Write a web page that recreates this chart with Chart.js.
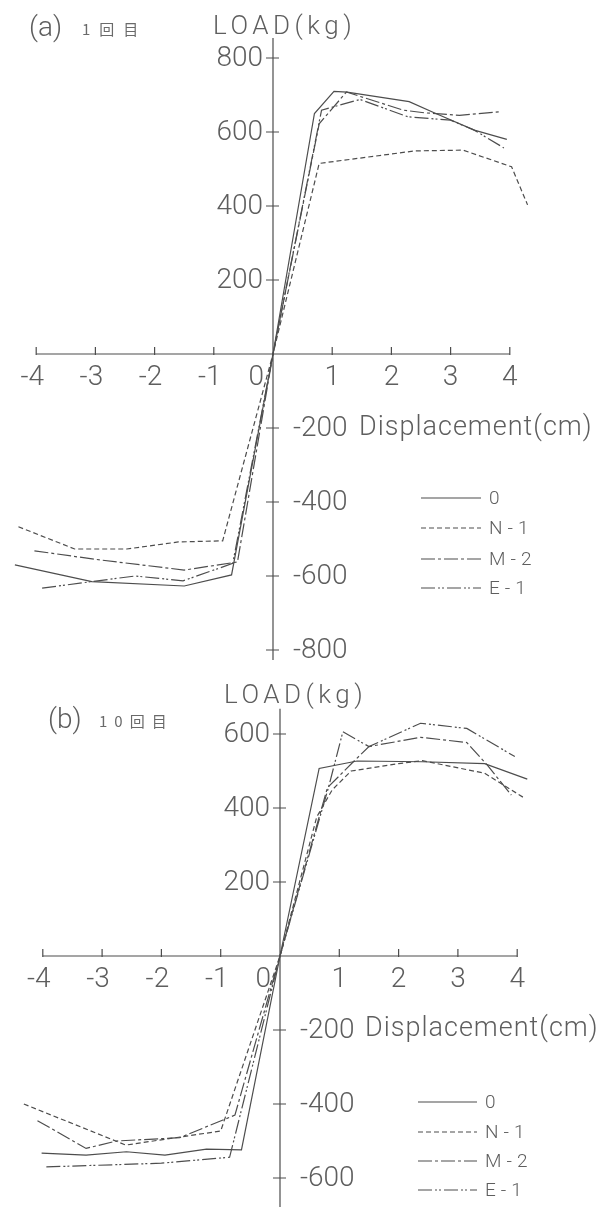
<!DOCTYPE html>
<html><head><meta charset="utf-8">
<script src="https://cdn.jsdelivr.net/npm/chart.js@4.4.1/dist/chart.umd.min.js"></script>
<style>
html,body{margin:0;padding:0;background:#fff;}
#wrap{position:relative;width:605px;height:1207px;overflow:hidden;background:#fff;}
canvas{position:absolute;left:0;}
</style></head><body>
<div id="wrap">
<canvas id="ca" width="605" height="665" style="top:0px"></canvas>
<canvas id="cb" width="605" height="542" style="top:665px"></canvas>
</div>
<script>
// ---------- data ----------
const seriesNames = ['0', 'N-1', 'M-2', 'E-1'];
const xTickValues = [-4, -3, -2, -1, 1, 2, 3, 4];
const aYTickValues = [800, 600, 400, 200, -200, -400, -600, -800];
const bYTickValues = [600, 400, 200, -200, -400, -600];

// (a) 1回目
const a0X  = [-4.36, -3.06, -1.5, -0.7, 0, 0.7, 1.03, 1.25, 2.3, 2.75, 3.4, 3.95];
const a0Y  = [-570, -615, -627, -597, 0, 650, 710, 708, 682, 650, 605, 580];
const aN1X = [-4.3, -3.35, -2.47, -1.6, -0.85, 0, 0.78, 2.4, 3.21, 4.03, 4.3];
const aN1Y = [-467, -527, -527, -508, -505, 0, 515, 549, 551, 506, 403];
const aM2X = [-4.03, -3.0, -1.5, -0.6, 0, 0.78, 1.24, 2.2, 2.55, 3.15, 3.85];
const aM2Y = [-532, -555, -584, -562, 0, 622, 708, 659, 652, 645, 655];
const aE1X = [-3.9, -3.06, -2.33, -1.52, -0.68, 0, 0.82, 1.47, 2.28, 3.0, 3.4, 3.9];
const aE1Y = [-633, -615, -600, -613, -566, 0, 659, 688, 641, 632, 605, 557];

// (b) 10回目
const b0X  = [-4.02, -3.27, -2.59, -1.94, -1.24, -0.65, 0, 0.66, 1.3, 2.4, 3.45, 4.17];
const b0Y  = [-533, -538, -529, -538, -522, -524, 0, 507, 527, 525, 520, 478];
const bN1X = [-4.32, -2.6, -1.0, 0, 0.62, 0.88, 1.2, 2.0, 2.4, 3.45, 4.1];
const bN1Y = [-400, -511, -473, 0, 376, 449, 500, 520, 528, 494, 429];
const bM2X = [-4.09, -3.27, -2.76, -1.69, -0.76, 0, 0.8, 1.25, 1.5, 2.37, 3.15, 3.5, 3.9];
const bM2Y = [-445, -520, -500, -491, -430, 0, 455, 527, 566, 591, 577, 515, 435];
const bE1X = [-3.94, -2.0, -0.85, 0, 0.82, 1.06, 1.5, 2.37, 3.15, 3.96];
const bE1Y = [-570, -560, -544, 0, 457, 606, 566, 629, 615, 539];

// ---------- styles ----------
const LINE = '#4d4d4d';
const TEXT = '#5e5e5e';
const dashes = [[], [5, 3], [14, 3, 3, 3], [14, 3, 2, 2, 2, 3]];
const NUMFONT = '300 28px Roboto, "Liberation Sans", sans-serif';

function pts(xs, ys) { return xs.map((x, i) => ({ x: x, y: ys[i] })); }

function makeDatasets(list) {
  return list.map((s, i) => ({
    label: seriesNames[i],
    data: pts(s[0], s[1]),
    borderColor: LINE,
    borderWidth: 1.2,
    borderDash: dashes[i],
    pointRadius: 0,
    fill: false,
    tension: 0,
    showLine: true
  }));
}

function txt(ctx, s, x, y, font, align, base, spacing, color) {
  ctx.font = font;
  ctx.textAlign = align;
  ctx.textBaseline = base;
  ctx.fillStyle = color || TEXT;
  try { ctx.letterSpacing = (spacing || 0) + 'px'; } catch (e) {}
  ctx.fillText(s, x, y);
  try { ctx.letterSpacing = '0px'; } catch (e) {}
}

const overlay = {
  id: 'overlay',
  afterDatasetsDraw(chart, args, o) {
    const ctx = chart.ctx, xs = chart.scales.x, ys = chart.scales.y;
    const ox = xs.getPixelForValue(0), oy = ys.getPixelForValue(0);
    ctx.save();
    ctx.strokeStyle = LINE;
    ctx.lineWidth = 1.2;
    ctx.setLineDash([]);
    // axes
    ctx.beginPath();
    ctx.moveTo(xs.getPixelForValue(-4), oy); ctx.lineTo(xs.getPixelForValue(4), oy);
    ctx.moveTo(ox, ys.getPixelForValue(o.yTop)); ctx.lineTo(ox, ys.getPixelForValue(o.yBottom));
    ctx.stroke();
    // x ticks
    ctx.beginPath();
    xTickValues.forEach(v => {
      const px = xs.getPixelForValue(v);
      ctx.moveTo(px, oy - 7); ctx.lineTo(px, oy + 1);
    });
    // y ticks
    o.yTicks.forEach(v => {
      const py = ys.getPixelForValue(v);
      ctx.moveTo(ox - 7, py); ctx.lineTo(ox + 6, py);
    });
    ctx.stroke();
    // x tick labels
    xTickValues.forEach(v => {
      const px = xs.getPixelForValue(v) - (v < 0 ? 4 : 0);
      txt(ctx, String(v), px, oy + 10, NUMFONT, 'center', 'top', 0);
    });
    txt(ctx, '0', ox - 9, oy + 10, NUMFONT, 'right', 'top', 0);
    // y tick labels
    o.yTicks.forEach(v => {
      const py = ys.getPixelForValue(v) + 1;
      if (v > 0) txt(ctx, String(v), ox - 10, py, NUMFONT, 'right', 'middle', 0);
      else txt(ctx, String(v), ox + 20, py, NUMFONT, 'left', 'middle', 0);
    });
    // axis titles
    txt(ctx, 'LOAD(kg)', o.loadX, o.loadY, '300 26px Roboto, sans-serif', 'left', 'alphabetic', 4.5);
    txt(ctx, 'Displacement(cm)', o.dispX, o.dispY, '300 27px Roboto, sans-serif', 'left', 'alphabetic', 1);
    // panel title
    txt(ctx, o.tag, o.tagX, o.tagY, '300 28px Roboto, sans-serif', 'left', 'alphabetic', 0);
    txt(ctx, o.sub, o.subX, o.tagY - 1, '15px "Noto Sans CJK JP", sans-serif', 'left', 'alphabetic', o.subSp, '#6a6a6a');
    // legend
    chart.data.datasets.forEach((ds, i) => {
      const ly = o.legY[i];
      ctx.beginPath();
      ctx.setLineDash(ds.borderDash);
      ctx.lineWidth = 1.2;
      ctx.strokeStyle = LINE;
      ctx.moveTo(o.legX0, ly); ctx.lineTo(o.legX1, ly);
      ctx.stroke();
      ctx.setLineDash([]);
      txt(ctx, ds.label, o.legX1 + 8, ly + 1, '300 19px Roboto, sans-serif', 'left', 'middle', 5);
    });
    ctx.restore();
  }
};

function makeChart(id, sets, geo, opts) {
  return new Chart(document.getElementById(id), {
    type: 'scatter',
    data: { datasets: makeDatasets(sets) },
    options: {
      responsive: false,
      animation: false,
      devicePixelRatio: 1,
      layout: { padding: 0 },
      plugins: { legend: { display: false }, tooltip: { enabled: false }, overlay: opts },
      scales: {
        x: { type: 'linear', display: false, min: geo.xMin, max: geo.xMax },
        y: { type: 'linear', display: false, min: geo.yMin, max: geo.yMax }
      }
    },
    plugins: [overlay]
  });
}

// geometry of panel (a): origin (273,354) px, 59.2 px/cm, 0.37 px/kg, canvas 605x665
makeChart('ca',
  [[a0X, a0Y], [aN1X, aN1Y], [aM2X, aM2Y], [aE1X, aE1Y]],
  { xMin: -273 / 59.2, xMax: (605 - 273) / 59.2, yMax: 354 / 0.37, yMin: (354 - 665) / 0.37 },
  { yTicks: aYTickValues, yTop: 854, yBottom: -827,
    loadX: 213, loadY: 34, dispX: 359, dispY: 435,
    tag: '(a)', tagX: 29, tagY: 36, sub: '1回目', subX: 82, subSp: 9,
    legX0: 421, legX1: 481, legY: [498, 528, 559, 588] });

// geometry of panel (b): origin (280,291) px in its canvas, 59.3 px/cm, 0.37 px/kg, canvas 605x542
makeChart('cb',
  [[b0X, b0Y], [bN1X, bN1Y], [bM2X, bM2Y], [bE1X, bE1Y]],
  { xMin: -280 / 59.3, xMax: (605 - 280) / 59.3, yMax: 291 / 0.37, yMin: (291 - 542) / 0.37 },
  { yTicks: bYTickValues, yTop: 668, yBottom: -700,
    loadX: 224, loadY: 38, dispX: 365, dispY: 371,
    tag: '(b)', tagX: 48, tagY: 63, sub: '10回目', subX: 99, subSp: 7,
    legX0: 418, legX1: 477, legY: [437, 467, 496, 525] });
</script>
</body></html>
